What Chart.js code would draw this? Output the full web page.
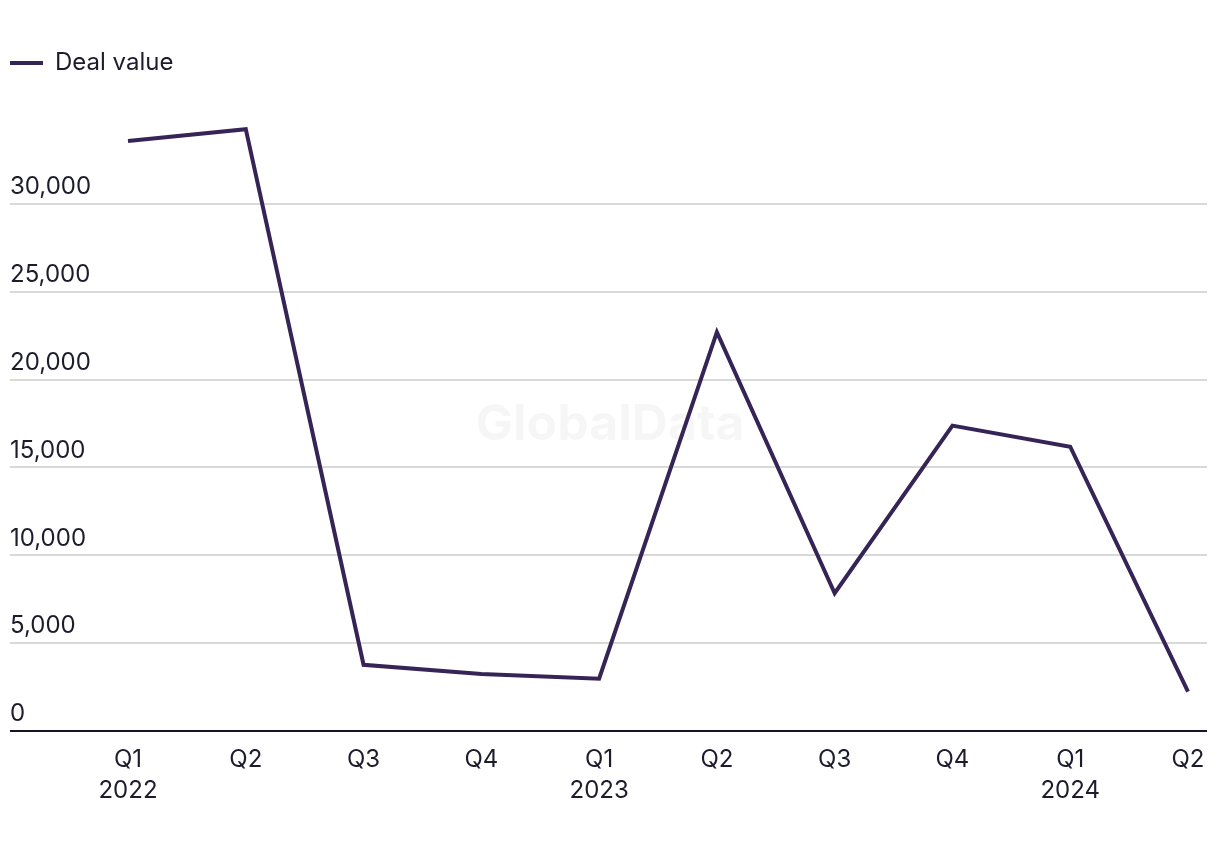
<!DOCTYPE html>
<html>
<head>
<meta charset="utf-8">
<script src="https://cdn.jsdelivr.net/npm/chart.js@4.4.1/dist/chart.umd.min.js"></script>
<style>
  html, body { margin: 0; padding: 0; background: #ffffff; }
  #wrap { width: 1220px; height: 850px; position: relative; }
</style>
</head>
<body>
<div id="wrap"><canvas id="c" width="1220" height="850"></canvas></div>
<script>
const categories = ["Q1 2022", "Q2 2022", "Q3 2022", "Q4 2022", "Q1 2023", "Q2 2023", "Q3 2023", "Q4 2023", "Q1 2024", "Q2 2024"];
const quarterLabels = ["Q1", "Q2", "Q3", "Q4", "Q1", "Q2", "Q3", "Q4", "Q1", "Q2"];
const yearLabels = ["2022", "", "", "", "2023", "", "", "", "2024", ""];
const dealValue = [33580, 34250, 3770, 3240, 2980, 22700, 7840, 17380, 16180, 2240];
const seriesName = "Deal value";
const yMin = 0, yMax = 35000, yStep = 5000;
const watermark = "GlobalData";

const LINE = "#372456";
const TEXT = "#1c1c2c";
const GRID = "#d9d9d9";
const AXIS = "#15152a";

Chart.defaults.font.family = "Inter, 'Liberation Sans', sans-serif";
Chart.defaults.font.size = 24;
Chart.defaults.color = TEXT;

const gridColor = (ctx) => (ctx.tick && ctx.tick.value === 0 ? AXIS : (ctx.tick && ctx.tick.value === yMax ? "rgba(0,0,0,0)" : GRID));

const legendHeight = {
  id: "legendHeight",
  beforeInit(chart) {
    const lg = chart.legend;
    if (!lg) return;
    const fit = lg.fit;
    lg.fit = function () { fit.call(lg); lg.height = 65; };
  }
};

const watermarkPlugin = {
  id: "watermark",
  beforeDatasetsDraw(chart) {
    const { ctx } = chart;
    ctx.save();
    ctx.font = "bold 50px Inter, 'Liberation Sans', sans-serif";
    ctx.fillStyle = "rgba(0,0,0,0.035)";
    ctx.textAlign = "center";
    ctx.textBaseline = "middle";
    ctx.fillText(watermark, 610, 425);
    ctx.restore();
  }
};

new Chart(document.getElementById("c"), {
  type: "line",
  data: {
    labels: categories,
    datasets: [{
      label: seriesName,
      data: dealValue,
      borderColor: LINE,
      backgroundColor: LINE,
      borderWidth: 4,
      pointRadius: 0,
      pointHoverRadius: 0,
      tension: 0,
      fill: false,
      yAxisID: "y"
    }]
  },
  options: {
    responsive: false,
    animation: false,
    layout: { padding: { left: 10, right: 13, top: 51, bottom: 0 } },
    plugins: {
      legend: {
        display: true,
        position: "top",
        align: "start",
        labels: {
          usePointStyle: true,
          pointStyle: "line",
          pointStyleWidth: 33,
          padding: 0,
          color: TEXT,
          font: { size: 24 }
        }
      },
      tooltip: { enabled: false }
    },
    scales: {
      x: {
        type: "category",
        offset: false,
        grid: { display: false, drawTicks: false },
        border: { display: false },
        ticks: {
          padding: 13,
          maxRotation: 0,
          autoSkip: false,
          color: TEXT,
          font: { size: 24, lineHeight: 1.3 },
          callback: (v, i) => (yearLabels[i] ? [quarterLabels[i], yearLabels[i]] : [quarterLabels[i]])
        },
        afterFit(s) { s.height = 119; }
      },
      y: {
        position: "left",
        min: yMin,
        max: yMax,
        border: { display: false },
        grid: {
          color: gridColor,
          tickColor: gridColor,
          lineWidth: 2,
          drawTicks: true,
          tickLength: 118
        },
        ticks: {
          stepSize: yStep,
          crossAlign: "far",
          labelOffset: -17,
          padding: 0,
          color: TEXT,
          font: { size: 24 },
          callback: (v) => (v === yMax ? "" : v.toLocaleString("en-US"))
        },
        afterFit(s) { s.width = 118; }
      },
      y2: {
        position: "right",
        min: yMin,
        max: yMax,
        border: { display: false },
        grid: {
          color: gridColor,
          tickColor: gridColor,
          lineWidth: 2,
          drawOnChartArea: false,
          drawTicks: true,
          tickLength: 19
        },
        ticks: { stepSize: yStep, display: false },
        afterFit(s) { s.width = 19; }
      }
    }
  },
  plugins: [legendHeight, watermarkPlugin]
});
</script>
</body>
</html>
